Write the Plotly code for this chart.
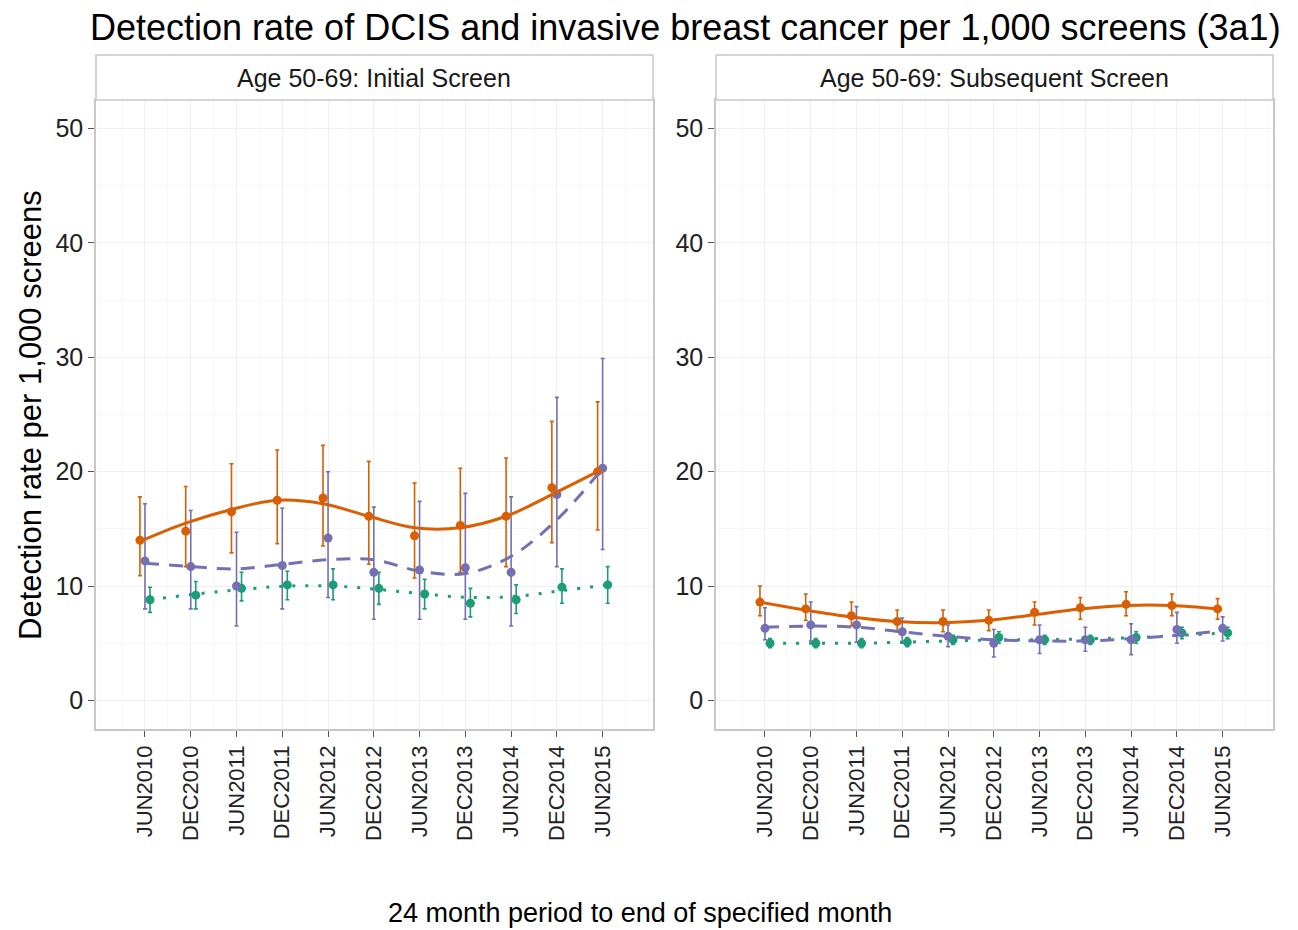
import plotly.graph_objects as go

categories = ["JUN2010", "DEC2010", "JUN2011", "DEC2011", "JUN2012", "DEC2012",
              "JUN2013", "DEC2013", "JUN2014", "DEC2014", "JUN2015"]
y_ticks = [0, 10, 20, 30, 40, 50]
panel_titles = ["Age 50-69: Initial Screen", "Age 50-69: Subsequent Screen"]

# Initial screen
init_orange = [14.0, 14.8, 16.5, 17.5, 17.7, 16.1, 14.4, 15.3, 16.1, 18.6, 20.0]
init_orange_lo = [10.9, 11.7, 12.9, 13.7, 13.5, 11.9, 10.7, 11.2, 11.7, 13.8, 14.9]
init_orange_hi = [17.8, 18.7, 20.7, 21.9, 22.3, 20.9, 19.0, 20.3, 21.2, 24.4, 26.1]
init_orange_fit = [13.9, 15.5, 16.7, 17.5, 17.2, 16.1, 15.1, 15.1, 16.1, 18.0, 20.0]

init_purple = [12.2, 11.7, 10.0, 11.8, 14.2, 11.2, 11.4, 11.6, 11.2, 18.0, 20.3]
init_purple_lo = [8.0, 8.0, 6.5, 8.0, 9.0, 7.1, 7.1, 7.1, 6.5, 11.7, 13.2]
init_purple_hi = [17.2, 16.6, 14.7, 16.8, 20.0, 16.9, 17.4, 18.1, 17.8, 26.5, 29.9]
init_purple_fit = [12.0, 11.7, 11.5, 11.9, 12.3, 12.3, 11.3, 11.1, 12.6, 15.8, 20.3]

init_green = [8.8, 9.2, 9.8, 10.1, 10.1, 9.8, 9.3, 8.5, 8.8, 9.9, 10.1]
init_green_lo = [7.7, 8.0, 8.7, 8.8, 8.8, 8.4, 8.0, 7.3, 7.6, 8.5, 8.5]
init_green_hi = [9.9, 10.4, 11.2, 11.3, 11.5, 11.2, 10.6, 9.8, 10.1, 11.5, 11.7]
init_green_fit = [8.8, 9.3, 9.7, 10.0, 10.0, 9.7, 9.3, 9.0, 9.1, 9.6, 10.1]

# Subsequent screen
sub_orange = [8.6, 8.0, 7.4, 6.9, 6.9, 7.0, 7.7, 8.1, 8.4, 8.3, 8.0]
sub_orange_lo = [7.4, 7.0, 6.5, 6.0, 6.0, 6.1, 6.6, 7.1, 7.4, 7.4, 7.1]
sub_orange_hi = [10.0, 9.3, 8.6, 7.9, 7.9, 7.9, 8.6, 9.0, 9.5, 9.3, 8.9]
sub_orange_fit = [8.6, 7.9, 7.3, 6.9, 6.8, 7.0, 7.5, 8.0, 8.3, 8.3, 8.0]

sub_purple = [6.3, 6.6, 6.6, 6.0, 5.6, 5.0, 5.3, 5.3, 5.3, 6.2, 6.3]
sub_purple_lo = [5.3, 5.2, 5.1, 5.0, 4.7, 3.8, 4.1, 4.3, 4.0, 5.0, 5.2]
sub_purple_hi = [8.1, 8.6, 8.2, 7.2, 6.6, 6.2, 6.6, 6.4, 6.7, 7.7, 7.3]
sub_purple_fit = [6.4, 6.5, 6.4, 6.0, 5.6, 5.3, 5.2, 5.2, 5.4, 5.7, 6.1]

sub_green = [5.0, 5.0, 5.0, 5.1, 5.3, 5.5, 5.3, 5.3, 5.5, 5.9, 5.9]
sub_green_lo = [4.6, 4.6, 4.6, 4.7, 4.9, 5.0, 4.9, 4.9, 5.0, 5.4, 5.4]
sub_green_hi = [5.4, 5.4, 5.4, 5.5, 5.7, 6.0, 5.7, 5.7, 6.0, 6.4, 6.4]
sub_green_fit = [5.0, 5.0, 5.0, 5.1, 5.2, 5.3, 5.3, 5.4, 5.5, 5.7, 5.9]

ORANGE = "#D95F02"
PURPLE = "#7570B3"
GREEN = "#1B9E77"
FONT = "Liberation Sans, Arial, sans-serif"

fig = go.Figure()

panels = [
    ("x", "y", [
        (init_orange, init_orange_lo, init_orange_hi, init_orange_fit, ORANGE, -0.11, "solid"),
        (init_purple, init_purple_lo, init_purple_hi, init_purple_fit, PURPLE, 0.0, "14px,10px"),
        (init_green, init_green_lo, init_green_hi, init_green_fit, GREEN, 0.11, "3px,10px"),
    ]),
    ("x2", "y2", [
        (sub_orange, sub_orange_lo, sub_orange_hi, sub_orange_fit, ORANGE, -0.11, "solid"),
        (sub_purple, sub_purple_lo, sub_purple_hi, sub_purple_fit, PURPLE, 0.0, "14px,10px"),
        (sub_green, sub_green_lo, sub_green_hi, sub_green_fit, GREEN, 0.11, "3px,10px"),
    ]),
]

idx = list(range(len(categories)))
for xa, ya, series in panels:
    for vals, lo, hi, fit, col, off, dash in series[::-1]:
        xs = [i + off for i in idx]
        fig.add_trace(go.Scatter(
            x=xs, y=vals, mode="markers", xaxis=xa, yaxis=ya,
            marker=dict(color=col, size=9),
            error_y=dict(type="data", symmetric=False,
                         array=[h - v for h, v in zip(hi, vals)],
                         arrayminus=[v - l for v, l in zip(vals, lo)],
                         color=col, thickness=1.6, width=2),
            showlegend=False, hoverinfo="skip"))
    for vals, lo, hi, fit, col, off, dash in series[::-1]:
        xs = [i + off for i in idx]
        fig.add_trace(go.Scatter(
            x=xs, y=fit, mode="lines", xaxis=xa, yaxis=ya,
            line=dict(color=col, width=3, dash=dash, shape="spline", smoothing=1.0),
            showlegend=False, hoverinfo="skip"))

W, H = 1298, 930
left_dom = [96 / W, 653 / W]
right_dom = [716 / W, 1273 / W]
y_dom = [1 - 729 / H, 1 - 100 / H]

xcommon = dict(
    range=[-1.07, 11.1], tickmode="array", tickvals=idx, ticktext=categories,
    tickangle=-90, ticks="outside", ticklen=6, tickcolor="#555555",
    tickfont=dict(family=FONT, size=22, color="#222222"),
    showgrid=True, gridcolor="#F0F0F0", gridwidth=1,
    minor=dict(showgrid=True, gridcolor="#F7F7F7", dtick=0.5, tick0=0.5),
    zeroline=False, showline=True, linecolor="#C8C8C8", linewidth=1.5, mirror=True,
)
ycommon = dict(
    range=[-2.5, 52.5], tickmode="array", tickvals=y_ticks,
    ticks="outside", ticklen=6, tickcolor="#555555",
    tickfont=dict(family=FONT, size=25, color="#222222"),
    showgrid=True, gridcolor="#F0F0F0", gridwidth=1,
    minor=dict(showgrid=True, gridcolor="#F7F7F7", dtick=5, tick0=5),
    zeroline=False, showline=True, linecolor="#C8C8C8", linewidth=1.5, mirror=True,
)

fig.update_layout(
    width=W, height=H,
    margin=dict(l=0, r=0, t=0, b=0),
    paper_bgcolor="white", plot_bgcolor="white",
    showlegend=False,
    xaxis=dict(domain=left_dom, anchor="y", **xcommon),
    xaxis2=dict(domain=right_dom, anchor="y2", **xcommon),
    yaxis=dict(domain=y_dom, anchor="x", **ycommon),
    yaxis2=dict(domain=y_dom, anchor="x2", **ycommon),
)

shapes = []
annotations = []
for dom, title in zip([left_dom, right_dom], panel_titles):
    shapes.append(dict(type="rect", xref="paper", yref="paper",
                       x0=dom[0], x1=dom[1], y0=1 - 100 / H, y1=1 - 55 / H,
                       fillcolor="white", line=dict(color="#C8C8C8", width=1.5)))
    annotations.append(dict(text=title, xref="paper", yref="paper",
                            x=(dom[0] + dom[1]) / 2, y=1 - 78 / H,
                            xanchor="center", yanchor="middle", showarrow=False,
                            font=dict(family=FONT, size=25, color="#1A1A1A")))

annotations.append(dict(
    text="Detection rate of DCIS and invasive breast cancer per 1,000 screens (3a1)",
    xref="paper", yref="paper", x=685 / W, y=1 - 27 / H, xanchor="center", yanchor="middle",
    showarrow=False, font=dict(family=FONT, size=36, color="#000000")))
annotations.append(dict(
    text="24 month period to end of specified month",
    xref="paper", yref="paper", x=640 / W, y=1 - 913 / H, xanchor="center", yanchor="middle",
    showarrow=False, font=dict(family=FONT, size=27, color="#000000")))
annotations.append(dict(
    text="Detection rate per 1,000 screens",
    xref="paper", yref="paper", x=30 / W, y=1 - 415 / H, xanchor="center", yanchor="middle",
    textangle=-90, showarrow=False, font=dict(family=FONT, size=31, color="#000000")))

fig.update_layout(shapes=shapes, annotations=annotations)
fig.write_html("out.html", config={"displayModeBar": False},
               post_script="document.body.style.margin='0';document.body.style.padding='0';")
